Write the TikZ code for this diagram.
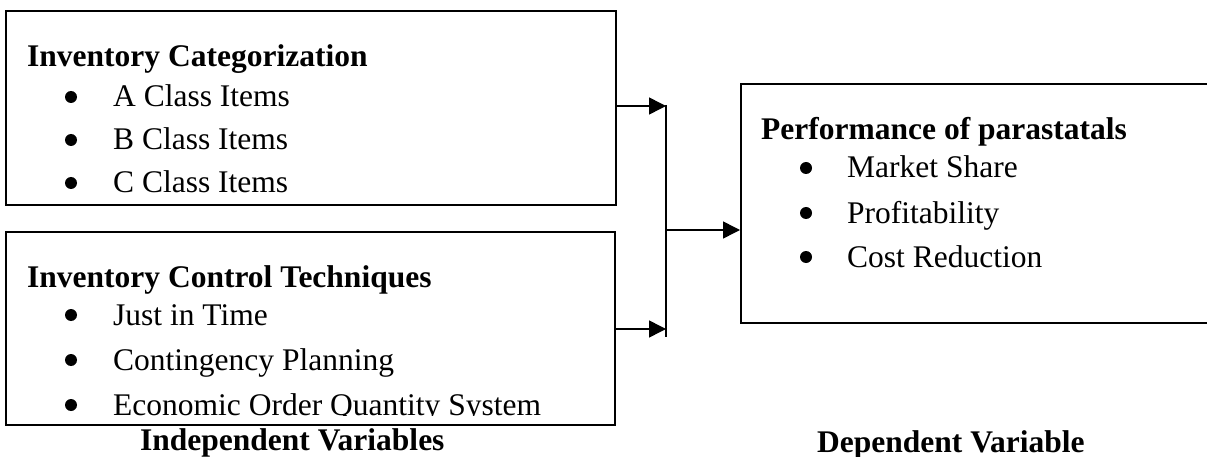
\documentclass[tikz,border=0pt]{standalone}
\usepackage{fontspec}
\setmainfont{Liberation Serif}
\usetikzlibrary{arrows.meta}
\begin{document}
\begin{tikzpicture}[x=1pt,y=-1pt,
  box/.style={draw,line width=1.8pt,rectangle,inner sep=0pt,anchor=north west},
  ttl/.style={anchor=base west,inner sep=0pt,font=\fontsize{31.5}{38}\selectfont\bfseries},
  itm/.style={anchor=base west,inner sep=0pt,font=\fontsize{31.5}{38}\selectfont},
  bul/.style={circle,fill,inner sep=0pt,minimum size=12pt},
  conn/.style={line width=1.5pt},
  arr/.style={conn,-{Triangle[length=17pt,width=17pt]}}
]
\useasboundingbox (0,0) rectangle (1207,457);
\clip (0,0) rectangle (1207,457);

% boxes
\node[box,minimum width=610pt,minimum height=194pt] (b1) at (5,10) {};
\node[box,minimum width=609pt,minimum height=193pt] (b2) at (5,231) {};
\node[box,minimum width=500pt,minimum height=239pt] (b3) at (740,83) {};

% box 1 text
\node[ttl] (t1) at (27,67) {Inventory Categorization};
\node[bul] (d11) at (71,97) {};
\node[itm] (i11) at (113,107) {A Class Items};
\node[bul] (d12) at (71,140) {};
\node[itm] (i12) at (113,150) {B Class Items};
\node[bul] (d13) at (71,183) {};
\node[itm] (i13) at (113,193) {C Class Items};

% box 2 text
\node[ttl] (t2) at (27,287) {Inventory Control Techniques};
\node[bul] (d21) at (71,315) {};
\node[itm] (i21) at (113,325) {Just in Time};
\node[bul] (d22) at (71,360) {};
\node[itm] (i22) at (113,370) {Contingency Planning};
\begin{scope}
\clip (0,0) rectangle (1207,415.5);
\node[bul] (d23) at (71,405) {};
\node[itm] (i23) at (113,415) {Economic Order Quantity System};
\end{scope}

% box 3 text
\node[ttl] (t3) at (761,140) {Performance of parastatals};
\node[bul] (d31) at (806,168) {};
\node[itm] (i31) at (847,178) {Market Share};
\node[bul] (d32) at (806,213) {};
\node[itm] (i32) at (847,223) {Profitability};
\node[bul] (d33) at (806,257) {};
\node[itm] (i33) at (847,267) {Cost Reduction};

% captions
\node[ttl] (c1) at (140,450) {Independent Variables};
\node[ttl] (c2) at (817,452) {Dependent Variable};

% connectors
\coordinate (jtop) at (666,105);
\coordinate (jbot) at (666,337);
\coordinate (jmid) at (666,230);
\draw[arr] (b1.east |- 0,106) -- (jtop |- 0,106);
\draw[arr] (b2.east |- 0,329) -- (jtop |- 0,329);
\draw[conn] (jtop) -- (jbot);
\draw[arr] (jmid) -- (b3.west |- jmid);
\end{tikzpicture}
\end{document}
